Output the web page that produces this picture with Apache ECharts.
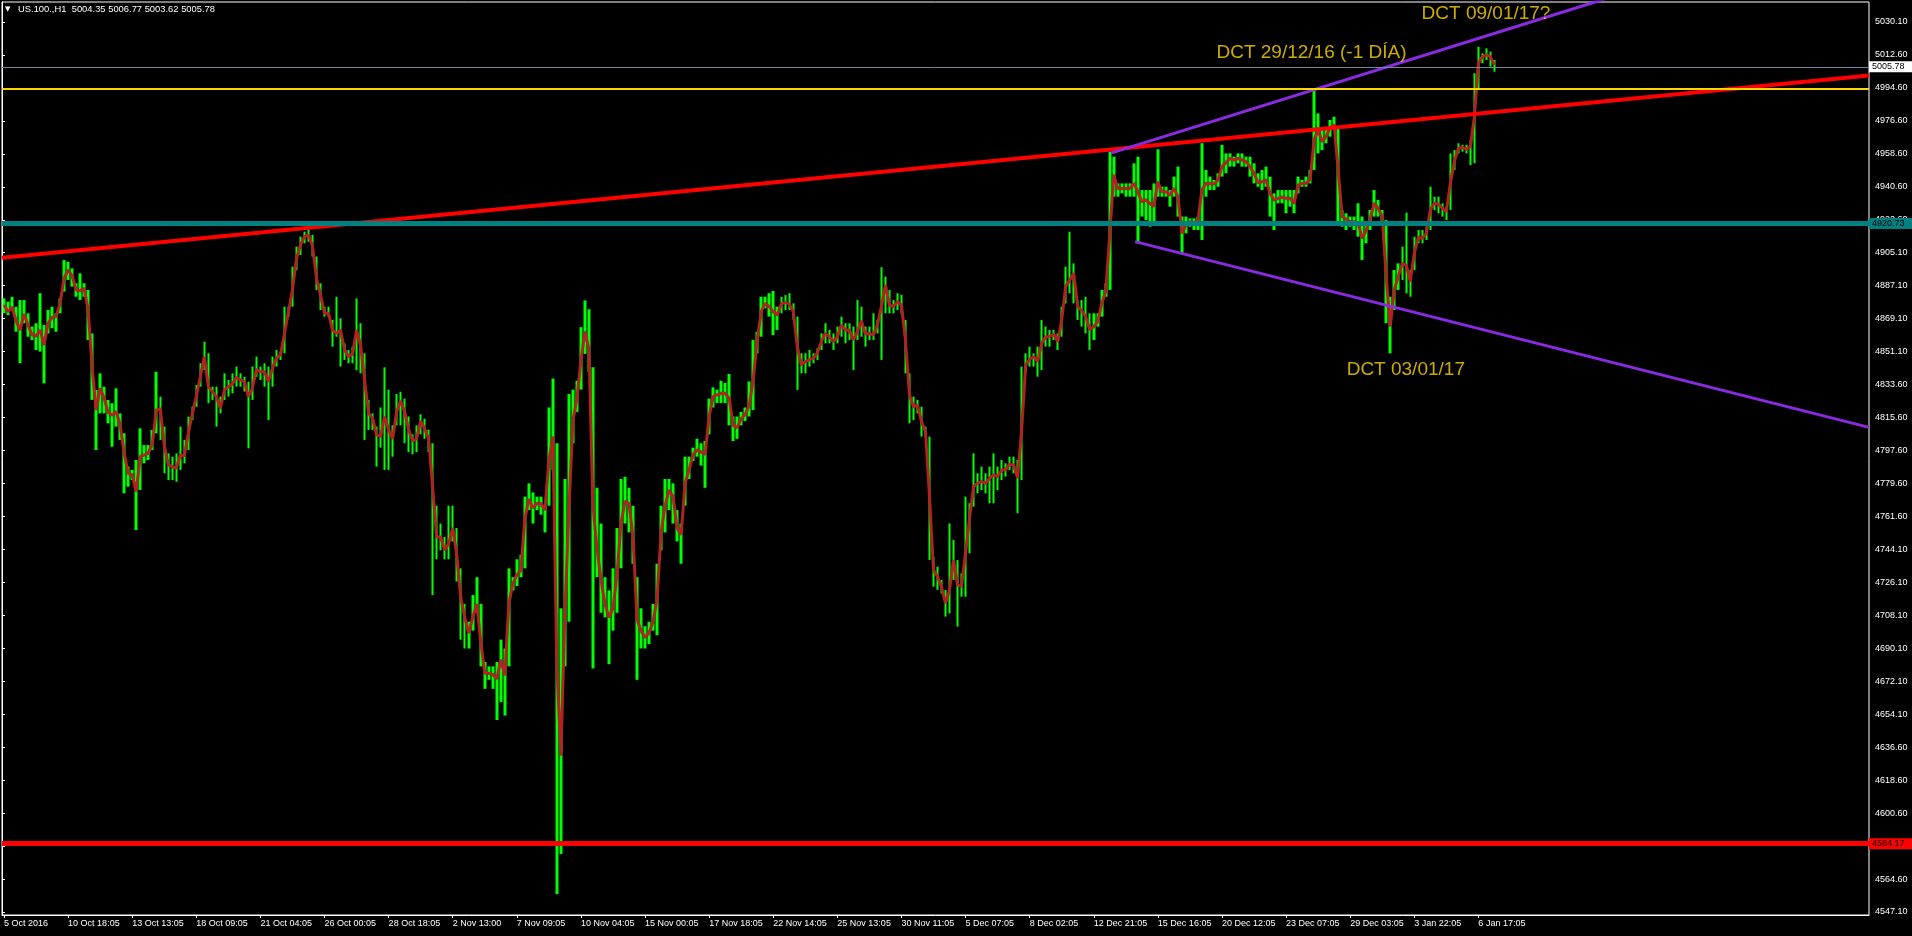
<!DOCTYPE html>
<html>
<head>
<meta charset="utf-8">
<style>
html,body{margin:0;padding:0;background:#000;}
#c{width:1912px;height:936px;}
</style>
<script src="https://cdn.jsdelivr.net/npm/echarts@6/dist/echarts.min.js"></script>
</head>
<body>
<div id="c"></div>
<script>
// ---------- data ----------
const slotCount = 466;          // hourly-bar groups across the whole plot width
const barsPerLabel = 16;
const xLabels = ['5 Oct 2016','10 Oct 18:05','13 Oct 13:05','18 Oct 09:05','21 Oct 04:05','26 Oct 00:05','28 Oct 18:05','2 Nov 13:00','7 Nov 09:05','10 Nov 04:05','15 Nov 00:05','17 Nov 18:05','22 Nov 14:05','25 Nov 13:05','30 Nov 11:05','5 Dec 07:05','8 Dec 02:05','12 Dec 21:05','15 Dec 16:05','20 Dec 12:05','23 Dec 07:05','29 Dec 03:05','3 Jan 22:05','6 Jan 17:05'];
const yTickLabels = ['4547.10','4564.60','4582.60','4600.60','4618.60','4636.60','4654.10','4672.10','4690.10','4708.10','4726.10','4744.10','4761.60','4779.60','4797.60','4815.60','4833.60','4851.10','4869.10','4887.10','4905.10','4922.60','4940.60','4958.60','4976.60','4994.60','5012.60','5030.10'];
const yMin = 4545.47, yMax = 5040.95;

const highs = [
4880.1,4878.3,4881.0,4875.6,4879.2,4879.2,4872.0,4864.8,4866.6,4882.9,4865.7,4873.8,4875.6,4872.0,4880.1,4900.9,4900.0,4896.4,4888.3,4893.7,
4888.3,4884.7,4861.1,4830.4,4839.4,4832.2,4825.0,4823.2,4831.3,4817.7,4806.9,4788.8,4787.0,4792.4,4809.6,4800.5,4800.5,4808.7,4840.3,4826.8,
4810.5,4796.0,4794.2,4796.0,4810.5,4803.3,4815.9,4821.3,4833.1,4844.9,4856.6,4850.3,4832.2,4832.2,4826.8,4839.4,4835.8,4839.4,4843.1,4839.4,
4837.6,4834.9,4843.1,4848.5,4843.1,4844.9,4843.1,4848.5,4852.1,4851.2,4875.6,4875.6,4897.3,4908.2,4913.6,4916.3,4917.6,4914.5,4902.8,4888.3,
4875.6,4875.6,4868.4,4881.0,4869.3,4855.7,4852.1,4853.9,4880.1,4866.6,4850.3,4825.0,4817.7,4810.5,
4820.9,4842.7,4830.6,4811.2,4828.2,4829.4,4825.7,4816.0,4806.3,4811.2,4817.2,4814.8,4808.8,4801.5,4767.6,4757.9,4750.6,4767.6,4767.6,4755.5,
4733.6,4714.3,4704.6,4719.1,4728.8,4714.3,4682.8,4680.4,4680.4,4682.8,4694.9,4690.1,4733.6,4728.8,4738.5,4741.0,4772.5,4779.7,4774.8,4772.5,
4772.5,4767.6,4820.9,4836.6,4801.5,4711.9,4782.1,4828.2,4830.6,4835.4,4864.5,4879.0,4874.2,4842.7,4777.3,4757.9,4728.8,4721.6,4733.6,4755.5,
4782.1,4783.3,4777.3,4767.6,4728.8,4711.9,4702.2,4704.6,4714.3,4736.1,4767.6,4782.1,4782.1,4779.7,4765.2,4757.9,4794.2,4794.2,4799.1,4803.9,
4801.5,4802.7,4825.7,4831.8,4830.6,4835.4,4834.2,4839.1,4816.0,4816.0,4818.5,4820.9,4835.0,
4857.5,4862.0,4881.0,4881.0,4882.9,4884.1,4875.6,4881.0,4881.9,4882.9,4877.4,4870.2,4850.3,4850.3,4852.1,4850.3,4853.0,4861.1,4866.6,4863.0,
4861.1,4864.8,4870.2,4866.6,4866.6,4864.8,4879.2,4875.6,4864.8,4864.8,4872.0,4868.4,4897.0,4891.9,4884.7,4879.2,4882.9,4882.0,4868.4,4839.4,
4826.8,4825.0,4821.3,4810.5,4805.1,4739.9,4734.5,4727.3,4721.9,4758.0,4749.0,4738.1,4730.9,4772.5,4768.9,4796.0,4785.2,4788.8,4785.2,4788.8,
4796.0,4788.8,4792.4,4790.6,4794.2,4794.2,4792.4,4843.1,4850.3,4853.9,4850.3,4853.9,4868.4,4864.8,4863.0,4863.0,4861.1,4875.6,4897.3,4916.3,
4899.1,4879.2,4879.2,4881.0,4872.0,4872.0,4872.0,4884.7,4888.3,
4959.7,4957.0,4942.5,4942.5,4942.5,4942.5,4953.4,4957.0,4938.9,4938.9,4938.9,4942.5,4961.0,4940.7,4940.7,4938.9,4946.2,4951.6,4924.5,4924.5,
4923.5,4923.5,4924.5,4964.3,4949.8,4946.2,4944.4,4948.0,4963.4,4958.8,4958.8,4957.0,4958.8,4958.8,4957.0,4957.0,4953.4,4948.0,4949.8,4951.6,
4946.2,4937.1,4938.9,4938.9,4938.9,4938.9,4938.9,4946.2,4944.4,4946.2,4949.8,4993.2,4980.5,4971.5,4971.5,4976.9,4978.7,4973.3,4928.1,4926.3,
4924.5,4924.5,4931.7,4924.5,4920.8,4928.1,4938.9,4933.5,4928.1,4922.6,4881.0,4895.5,4899.1,4908.2,4926.6,4895.5,4913.6,4917.2,4917.2,4919.0,
4940.7,4935.3,4935.3,4931.7,4929.9,4958.8,4960.6,4964.3,4963.4,4963.4,4966.1,5002.3,5016.7,5013.1,5015.8,5014.0,5009.5
];

const lows = [
4872.0,4871.1,4873.8,4862.0,4844.9,4866.6,4859.3,4857.5,4852.1,4851.2,4834.0,4861.1,4863.9,4862.0,4872.0,4883.8,4890.1,4886.5,4881.0,4879.2,
4881.0,4857.5,4825.0,4797.8,4817.7,4817.7,4812.3,4799.6,4810.5,4803.3,4774.3,4777.9,4781.5,4754.4,4776.1,4790.6,4792.4,4797.8,4806.9,4803.3,
4785.2,4781.5,4781.5,4780.6,4787.0,4790.6,4797.8,4814.1,4821.3,4832.2,4841.2,4823.2,4825.0,4810.5,4817.7,4825.0,4826.8,4828.6,4832.2,4832.2,
4829.5,4798.7,4825.0,4837.6,4835.8,4832.2,4814.1,4832.2,4843.1,4846.7,4850.3,4870.2,4875.6,4895.5,4903.7,4910.0,4910.9,4902.8,4884.7,4873.8,
4870.2,4870.2,4853.9,4859.3,4843.1,4846.7,4844.9,4844.9,4841.2,4839.4,4803.3,4808.7,4808.7,4788.8,
4799.1,4787.0,4787.0,4794.2,4811.2,4811.2,4801.5,4796.7,4795.5,4796.7,4806.3,4803.9,4796.7,4719.1,4738.5,4743.4,4738.5,4738.5,4748.2,4726.4,
4694.9,4690.1,4690.1,4699.8,4709.5,4680.4,4668.2,4673.1,4668.2,4651.3,4661.0,4653.7,4680.4,4721.6,4724.0,4728.8,4733.6,4765.2,4757.9,4765.2,
4762.7,4753.1,4767.6,4787.0,4556.8,4578.6,4680.4,4704.6,4801.5,4818.5,4830.6,4850.0,4840.3,4679.2,4728.8,4709.5,4707.0,4681.6,4699.8,4709.5,
4733.6,4757.9,4753.1,4736.1,4673.1,4690.1,4690.1,4692.5,4699.8,4697.3,4743.4,4753.1,4765.2,4757.9,4748.2,4736.1,4767.6,4782.1,4791.8,4794.2,
4789.4,4777.3,4806.3,4820.9,4823.3,4823.3,4823.3,4811.2,4802.7,4803.9,4811.2,4813.6,4816.0,
4819.5,4850.3,4859.3,4874.7,4870.2,4860.2,4863.0,4872.0,4873.8,4873.8,4868.4,4830.4,4839.4,4839.4,4843.1,4844.9,4846.7,4852.1,4855.7,4855.7,
4852.1,4855.7,4859.3,4855.7,4857.5,4841.2,4857.5,4859.3,4853.9,4857.5,4857.5,4861.1,4846.7,4872.0,4872.0,4872.0,4873.8,4872.0,4839.4,4812.3,
4814.1,4817.7,4805.1,4805.1,4738.1,4723.7,4721.9,4720.0,4707.4,4709.2,4727.3,4702.0,4718.2,4718.2,4741.8,4767.1,4774.3,4776.1,4774.3,4768.9,
4768.9,4776.1,4781.5,4783.4,4787.0,4785.2,4763.5,4781.5,4839.4,4843.1,4843.1,4837.6,4841.2,4853.9,4853.9,4857.5,4852.1,4859.3,4877.4,4882.9,
4877.4,4868.4,4864.8,4861.1,4852.1,4857.5,4864.8,4870.2,4881.0,
4884.7,4935.3,4935.3,4937.1,4935.3,4935.3,4935.3,4910.0,4924.5,4922.6,4919.0,4920.8,4935.3,4935.3,4935.3,4929.9,4935.3,4924.5,4904.5,4915.4,
4919.0,4917.2,4917.2,4911.8,4935.3,4938.9,4938.9,4940.7,4946.2,4948.0,4951.6,4951.6,4953.4,4951.6,4951.6,4946.2,4942.5,4940.7,4938.9,4940.7,
4924.5,4917.2,4931.7,4931.7,4926.3,4929.9,4926.3,4937.1,4940.7,4940.7,4942.5,4949.8,4958.8,4960.6,4964.3,4967.9,4971.5,4920.8,4919.0,4917.2,
4919.0,4917.2,4913.6,4900.9,4910.0,4917.2,4924.5,4924.5,4920.8,4866.6,4850.3,4873.8,4884.7,4890.1,4882.8,4881.0,4895.5,4910.0,4910.0,4911.8,
4917.2,4928.1,4926.3,4924.5,4922.6,4928.1,4949.8,4958.8,4959.7,4958.8,4952.5,4953.4,4993.2,5007.7,5009.5,5005.9,5003.1
];

const mas = [
4876.5,4872.9,4875.3,4868.0,4862.9,4871.6,4865.7,4860.2,4859.7,4862.9,4854.8,4866.6,4869.8,4870.2,4877.4,4891.0,4895.5,4892.3,4884.7,4884.3,
4885.6,4873.8,4843.1,4819.5,4831.3,4825.9,4818.1,4816.8,4818.6,4811.4,4796.0,4785.2,4784.3,4775.2,4794.2,4795.1,4796.0,4801.1,4819.5,4820.4,
4800.5,4789.7,4788.8,4787.9,4795.1,4794.6,4806.9,4817.4,4826.8,4837.6,4848.5,4832.2,4829.5,4826.8,4820.4,4830.4,4832.2,4833.7,4837.3,4835.8,
4834.9,4826.8,4831.3,4841.6,4840.3,4840.3,4834.9,4842.1,4847.6,4849.4,4861.1,4872.9,4884.7,4901.8,4909.1,4913.6,4914.5,4908.5,4891.0,4881.9,
4872.0,4872.0,4862.9,4861.1,4862.9,4852.1,4848.5,4849.9,4862.9,4854.8,4835.8,4817.7,4815.0,4806.0,
4805.1,4816.0,4808.8,4803.9,4818.5,4824.5,4818.5,4808.8,4802.7,4803.9,4813.6,4809.3,4803.9,4777.3,4750.6,4750.6,4743.4,4747.0,4755.5,4741.0,
4717.9,4707.0,4698.5,4707.0,4714.3,4693.7,4676.7,4676.7,4676.0,4673.6,4684.0,4675.5,4714.3,4725.2,4730.0,4732.5,4760.3,4771.2,4766.4,4768.8,
4768.8,4765.2,4791.8,4805.1,4680.4,4631.9,4709.4,4765.2,4813.6,4825.7,4846.3,4862.1,4852.4,4767.6,4744.6,4727.6,4714.3,4707.0,4711.9,4730.0,
4757.9,4770.0,4768.8,4750.6,4705.8,4699.8,4696.1,4698.5,4704.6,4716.7,4753.1,4767.6,4776.1,4772.4,4755.5,4751.9,4779.7,4787.0,4795.4,4797.9,
4796.7,4795.4,4816.0,4826.9,4827.7,4828.6,4828.6,4825.7,4811.2,4810.0,4814.8,4817.2,4822.0,
4835.8,4857.5,4872.9,4877.4,4875.6,4872.9,4871.1,4877.1,4877.8,4877.1,4872.9,4853.9,4844.0,4845.8,4846.7,4847.6,4850.3,4856.6,4861.1,4859.3,
4856.6,4859.3,4865.7,4863.0,4863.0,4857.5,4862.0,4868.0,4860.8,4861.1,4860.2,4865.7,4875.6,4887.4,4876.5,4875.6,4878.3,4876.5,4857.5,4827.7,
4821.3,4822.2,4813.2,4807.8,4772.5,4732.7,4729.1,4723.7,4714.6,4721.9,4738.1,4724.6,4723.7,4741.8,4760.7,4777.9,4779.7,4780.6,4779.7,4782.5,
4784.3,4783.4,4787.0,4787.0,4790.2,4789.7,4782.5,4808.7,4843.9,4847.0,4848.5,4845.8,4855.7,4859.3,4859.3,4860.8,4856.6,4868.4,4886.5,4890.1,
4893.7,4875.6,4873.4,4870.2,4863.0,4864.8,4867.5,4877.4,4883.8,
4915.0,4947.1,4939.8,4939.8,4939.8,4939.8,4942.5,4938.0,4932.6,4933.5,4931.7,4929.9,4943.4,4938.0,4938.0,4936.2,4939.8,4935.3,4915.4,4919.9,
4921.7,4921.2,4922.3,4938.9,4942.5,4942.5,4942.2,4944.4,4951.6,4953.8,4956.1,4955.2,4956.1,4955.2,4954.3,4951.6,4948.0,4942.9,4943.4,4944.4,
4937.1,4933.5,4934.4,4935.0,4934.4,4934.4,4931.7,4941.6,4942.5,4942.5,4944.7,4966.1,4971.5,4965.2,4967.9,4972.9,4974.2,4949.8,4924.5,4923.0,
4921.7,4921.7,4920.8,4912.7,4917.2,4923.5,4931.7,4929.0,4924.5,4891.9,4864.8,4884.7,4891.9,4899.1,4898.2,4889.2,4904.5,4913.2,4912.7,4915.4,
4928.1,4931.7,4931.3,4929.0,4927.2,4942.5,4954.3,4961.5,4962.1,4961.0,4962.4,4978.7,5007.7,5011.3,5012.2,5011.3,5006.8
];

// horizontal price levels
const tealLevel = 4920.73;
const redLevel = 4584.17;
const goldLevel = 4993.8;
const bidLevel = 5005.78;

// trend lines: [bar position, price]
const redTrend = [[0, 4902.1], [466, 5001.0]];
const upperChannel = [[276.8, 4958.9], [400, 5042.6]];
const lowerChannel = [[282.8, 4910.9], [466, 4810.1]];

// annotations: [bar position, price, text]
const notes = [
  [354.2, 5034.4, 'DCT 09/01/17?'],
  [303.0, 5013.3, 'DCT 29/12/16 (-1 DÍA)'],
  [335.5, 4841.4, 'DCT 03/01/17']
];

const titleText = 'US.100.,H1  5004.35 5006.77 5003.62 5005.78';

// ---------- chart ----------
const FONT = '"Liberation Sans", Arial, sans-serif';
const yStep = (5030.1 - 4547.1) / (yTickLabels.length - 1);
const yTickValues = yTickLabels.map((_, k) => 4547.1 + k * yStep);
const cats = Array.from({length: slotCount}, (_, i) =>
  (i % barsPerLabel === 0 && xLabels[i / barsPerLabel]) ? xLabels[i / barsPerLabel] : '');
const labelInterval = (idx) => idx % barsPerLabel === 0 && !!xLabels[idx / barsPerLabel];
const candleData = highs.map((h, i) => [lows[i], h, lows[i], h]);

function boxLabel(text, bg) {
  return {
    show: true, position: 'end', distance: 0, formatter: text,
    backgroundColor: bg, color: '#000', fontSize: 9, fontFamily: FONT,
    lineHeight: 9, padding: [1, 3, 1, 3], width: 37
  };
}

const chart = echarts.init(document.getElementById('c'), null, {renderer: 'canvas'});
chart.setOption({
  backgroundColor: '#000',
  animation: false,
  grid: {left: 2, right: 43, top: 2, bottom: 21, show: true, borderColor: '#fff', borderWidth: 1, backgroundColor: '#000'},
  xAxis: [
    {
      type: 'category', data: cats, boundaryGap: true,
      axisLine: {show: true, lineStyle: {color: '#fff', width: 1}},
      axisTick: {show: true, alignWithLabel: true, interval: labelInterval, length: 3, lineStyle: {color: '#fff'}},
      axisLabel: {interval: labelInterval, color: '#fff', fontSize: 9, fontFamily: FONT, align: 'left', margin: 4},
      splitLine: {show: false}
    },
    {type: 'value', min: 0, max: slotCount, show: false}
  ],
  yAxis: {
    type: 'value', position: 'right', min: yMin, max: yMax,
    axisLine: {show: true, lineStyle: {color: '#fff', width: 1}},
    axisTick: {show: true, length: 3, customValues: yTickValues, lineStyle: {color: '#fff'}},
    axisLabel: {
      customValues: yTickValues,
      formatter: (v) => yTickLabels[Math.round((v - 4547.1) / yStep)] || '',
      color: '#fff', fontSize: 9, fontFamily: FONT, margin: 6
    },
    splitLine: {show: false}
  },
  graphic: [
    {type: 'text', left: 5, top: 6, style: {text: '▼', fill: '#fff', font: '7px "DejaVu Sans"'}},
    {type: 'text', left: 18, top: 5, style: {text: titleText, fill: '#fff', font: '9.4px ' + FONT}}
  ],
  series: [
    {
      type: 'candlestick', data: candleData, barWidth: 3, z: 2,
      itemStyle: {color: '#00ff00', color0: '#00ff00', borderColor: '#00ff00', borderColor0: '#00ff00', borderWidth: 0}
    },
    {
      type: 'line', data: mas, symbol: 'none', z: 3,
      lineStyle: {color: '#b22222', width: 3}
    },
    {type: 'line', xAxisIndex: 1, data: redTrend, symbol: 'none', z: 4, lineStyle: {color: '#ff0000', width: 4}},
    {type: 'line', xAxisIndex: 1, data: upperChannel, symbol: 'none', z: 4, lineStyle: {color: '#8a2be2', width: 3}},
    {type: 'line', xAxisIndex: 1, data: lowerChannel, symbol: 'none', z: 4, lineStyle: {color: '#8a2be2', width: 3}},
    {
      type: 'line', xAxisIndex: 1, data: [[0, tealLevel]], symbol: 'none', lineStyle: {opacity: 0}, z: 6,
      markLine: {
        symbol: ['none', 'none'], silent: true, animation: false,
        data: [
          {yAxis: goldLevel, lineStyle: {color: '#ffd700', width: 2, type: 'solid'}, label: {show: false}},
          {yAxis: bidLevel, lineStyle: {color: '#778899', width: 1, type: 'solid'}, label: boxLabel(bidLevel.toFixed(2), '#ffffff')},
          {yAxis: tealLevel, lineStyle: {color: '#008080', width: 5, type: 'solid'}, label: boxLabel(tealLevel.toFixed(2), '#008080')},
          {yAxis: redLevel, lineStyle: {color: '#ff0000', width: 5, type: 'solid'}, label: boxLabel(redLevel.toFixed(2), '#ff0000')}
        ]
      }
    },
    {
      type: 'scatter', xAxisIndex: 1, symbolSize: 1, z: 7, itemStyle: {color: 'rgba(0,0,0,0)'},
      data: notes.map(n => ({name: n[2], value: [n[0], n[1]]})),
      label: {show: true, position: 'right', distance: 0, formatter: '{b}', color: '#ffd700', fontSize: 19, fontFamily: FONT}
    }
  ]
});
</script>
</body>
</html>
